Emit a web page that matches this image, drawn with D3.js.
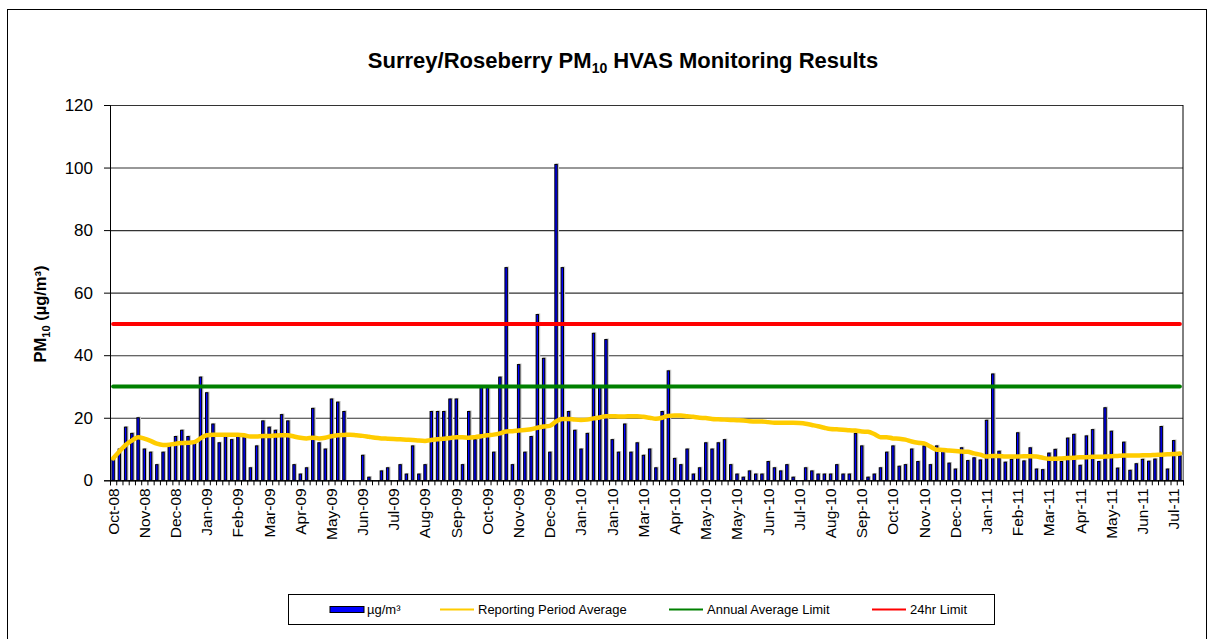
<!DOCTYPE html>
<html>
<head>
<meta charset="utf-8">
<script src="https://cdn.jsdelivr.net/npm/d3@7"></script>
<style>
body { margin: 0; background: #fff; }
text { font-family: Arial, "Liberation Sans", sans-serif; fill: #000; }
</style>
</head>
<body>
<div class="chart"></div>
<script>
// month labels, one every 5 samples
var tickLabels = ["Oct-08","Nov-08","Dec-08","Jan-09","Feb-09","Mar-09","Apr-09","May-09","Jun-09","Jul-09",
  "Aug-09","Sep-09","Oct-09","Nov-09","Dec-09","Jan-10","Jan-10","Mar-10","Apr-10","May-10",
  "May-10","Jun-10","Jul-10","Aug-10","Sep-10","Oct-10","Nov-10","Dec-10","Jan-11","Feb-11",
  "Mar-11","Apr-11","May-11","Jun-11","Jul-11"]

// PM10 results (µg/m³), one per sample
var pm10 = [7,10,17,15,20,10,9,5,9,11,
  14,16,14,12,33,28,18,12,14,13,
  14,14,4,11,19,17,16,21,19,5,
  2,4,23,12,10,26,25,22,0,0,
  8,1,0,3,4,0,5,2,11,2,
  5,22,22,22,26,26,5,22,13,30,
  30,9,33,68,5,37,9,14,53,39,
  9,101,68,22,16,10,15,47,30,45,
  13,9,18,9,12,8,10,4,22,35,
  7,5,10,2,4,12,10,12,13,5,
  2,1,3,2,2,6,4,3,5,1,
  0,4,3,2,2,2,5,2,2,15,
  11,1,2,4,9,11,4.5,5,10,6,
  11,5,11,10,5.5,3.6,10.4,6.3,7.2,6.5,
  19.2,34,9.3,5.8,6.7,15.2,6.2,10.4,3.6,3.4,
  8.7,9.9,6,13.5,14.7,4.8,14.2,16.2,6,23.2,
  15.7,3.9,12.2,3.2,5.3,6.7,6.1,6.8,17.2,3.6,
  12.7,7.8]

// reporting period average
var periodAvg = [7,9.2,11.3,12.7,13.8,13.3,12.6,11.7,11.3,11.4,
  11.7,11.9,12,12.2,13.4,14.4,14.6,14.6,14.6,14.6,
  14.6,14.4,14,14,14.2,14.2,14.3,14.4,14.4,14,
  13.6,13.4,13.6,13.4,13.6,14.1,14.4,14.5,14.6,14.4,
  14.2,13.9,13.6,13.4,13.3,13.2,13.1,13,12.9,12.7,
  12.6,12.9,13.1,13.3,13.5,13.8,13.8,13.6,13.8,14.1,
  14.4,14.6,15,15.6,15.7,15.9,16.1,16.3,16.8,17.2,
  17.4,18.8,19.6,19.6,19.4,19.3,19.4,19.8,20.1,20.5,
  20.5,20.4,20.4,20.5,20.5,20.3,20,19.7,20,20.6,
  20.7,20.7,20.5,20.3,20,19.9,19.6,19.5,19.4,19.3,
  19.2,19.1,18.9,18.8,18.8,18.6,18.4,18.4,18.4,18.4,
  18.3,18.1,17.7,17.3,16.8,16.4,16.3,16.2,16,15.9,
  15.6,15.5,14.8,13.8,13.8,13.4,13.3,13,12.4,12,
  11.8,10.8,9.8,9.7,9.5,9.4,9.2,9.1,8.6,8.2,
  7.6,7.8,7.8,7.6,7.6,7.6,7.7,7.7,7.6,7.2,
  6.9,6.9,7,7.1,7.2,7.4,7.4,7.5,7.5,7.6,
  7.7,7.8,7.9,7.9,7.9,8,8,8.1,8.2,8.3,
  8.4,8.6]

var annualLimit = 30
var dayLimit = 50
var yTicks = [0,20,40,60,80,100,120]

var margin = { top: 105, right: 30, bottom: 159, left: 110 }
var width = 1213 - margin.left - margin.right
var height = 639 - margin.top - margin.bottom + 0.3

var svg = d3.select(".chart").append("svg")
    .attr("width", 1213)
    .attr("height", 639)

svg.append("rect")
    .attr("x", 7.5).attr("y", 9.5)
    .attr("width", 1199).attr("height", 650)
    .attr("fill", "none").attr("stroke", "#000")

// title
var title = svg.append("text")
    .attr("x", 623).attr("y", 68)
    .attr("text-anchor", "middle")
    .style("font-size", "22px").style("font-weight", "bold")
title.append("tspan").text("Surrey/Roseberry PM")
title.append("tspan").attr("dy", 5).style("font-size", "14px").text("10")
title.append("tspan").attr("dy", -5).text(" HVAS Monitoring Results")

var g = svg.append("g")
    .attr("transform", "translate(" + margin.left + "," + margin.top + ")")

var idx = d3.range(pm10.length)
var xScale = d3.scaleBand().domain(idx).range([0, width]).padding(0)
var xEdge = d3.scaleLinear().domain([0, pm10.length]).range([0, width])
var yScale = d3.scaleLinear().domain([0, 120]).range([height, 0])

// gridlines
g.append("g")
    .attr("class", "grid")
    .call(d3.axisLeft(yScale).tickValues(yTicks).tickSize(-width).tickFormat(""))
    .call(function(s) { s.select(".domain").remove() })
    .selectAll("line").attr("stroke", "#333").attr("stroke-width", 1.1)

// right border
g.append("line")
    .attr("x1", width).attr("x2", width)
    .attr("y1", 0).attr("y2", height)
    .attr("stroke", "#000")

// bars with a grey shadow
var bw = 2.4
g.selectAll("rect.shadow")
    .data(idx.filter(function(i) { return pm10[i] > 0 }))
    .enter().append("rect")
    .attr("class", "shadow")
    .attr("x", function(i) { return xScale(i) + xScale.bandwidth() / 2 - bw / 2 + 1.2 })
    .attr("y", function(i) { return yScale(pm10[i]) - 0.6 })
    .attr("width", bw)
    .attr("height", function(i) { return height - yScale(pm10[i]) + 0.6 })
    .attr("fill", "#b0b0b0").attr("stroke", "#c8c8c8").attr("stroke-width", 1)

g.selectAll("rect.bar")
    .data(idx.filter(function(i) { return pm10[i] > 0 }))
    .enter().append("rect")
    .attr("class", "bar")
    .attr("x", function(i) { return xScale(i) + xScale.bandwidth() / 2 - bw / 2 })
    .attr("y", function(i) { return yScale(pm10[i]) })
    .attr("width", bw)
    .attr("height", function(i) { return height - yScale(pm10[i]) })
    .attr("fill", "#0000ff").attr("stroke", "#000").attr("stroke-width", 1)

var cx = function(i) { return xScale(i) + xScale.bandwidth() / 2 }

// limit lines
g.append("line")
    .attr("x1", cx(0)).attr("x2", cx(pm10.length - 1))
    .attr("y1", yScale(annualLimit)).attr("y2", yScale(annualLimit))
    .attr("stroke", "#008000").attr("stroke-width", 4).attr("stroke-linecap", "round")
g.append("line")
    .attr("x1", cx(0)).attr("x2", cx(pm10.length - 1))
    .attr("y1", yScale(dayLimit)).attr("y2", yScale(dayLimit))
    .attr("stroke", "#ff0000").attr("stroke-width", 4).attr("stroke-linecap", "round")

// reporting period average
var line = d3.line()
    .x(function(d, i) { return cx(i) })
    .y(function(d) { return yScale(d) })
    .curve(d3.curveMonotoneX)
g.append("path")
    .datum(periodAvg)
    .attr("d", line)
    .attr("fill", "none")
    .attr("stroke", "#ffcc00").attr("stroke-width", 4.5)
    .attr("stroke-linejoin", "round").attr("stroke-linecap", "round")

// y axis
var yAxis = g.append("g")
    .call(d3.axisLeft(yScale).tickValues(yTicks).tickSize(6).tickPadding(11))
yAxis.select(".domain").attr("stroke", "#000")
yAxis.selectAll("text").style("font-size", "17px")

// x axis: tick marks between every sample
g.append("g")
    .attr("transform", "translate(0," + height + ")")
    .call(d3.axisBottom(xEdge).tickValues(d3.range(pm10.length + 1)).tickSize(5).tickFormat(""))
    .selectAll("line").attr("stroke", "#000")

var xAxis = g.append("g")
    .attr("transform", "translate(0," + height + ")")
    .call(d3.axisBottom(xScale)
        .tickValues(idx.filter(function(i) { return i % 5 === 0 }))
        .tickSize(0)
        .tickFormat(function(i) { return tickLabels[i / 5] }))
xAxis.select(".domain").attr("stroke", "#000")
xAxis.selectAll("text")
    .style("font-size", "15.5px")
    .style("text-anchor", "end")
    .attr("transform", "rotate(-90)")
    .attr("x", -8)
    .attr("y", 0)
    .attr("dy", "0.35em")

// y axis title
var yt = svg.append("text")
    .attr("transform", "translate(46,314) rotate(-90)")
    .attr("text-anchor", "middle")
    .style("font-size", "16.5px").style("font-weight", "bold")
yt.append("tspan").text("PM")
yt.append("tspan").attr("dy", 4).style("font-size", "11px").text("10")
yt.append("tspan").attr("dy", -4).text(" (µg/m³)")

// legend
var lg = svg.append("g")
lg.append("rect")
    .attr("x", 288.5).attr("y", 594.5).attr("width", 706).attr("height", 30)
    .attr("fill", "#fff").attr("stroke", "#000")
var ly = 609.5
lg.append("rect")
    .attr("x", 330).attr("y", ly - 3).attr("width", 34).attr("height", 6)
    .attr("fill", "#0000ff").attr("stroke", "#000")
var legendItems = [
    { label: "µg/m³", x: 367 },
    { label: "Reporting Period Average", x: 478, color: "#ffcc00", lx: 440 },
    { label: "Annual Average Limit", x: 707, color: "#008000", lx: 669 },
    { label: "24hr Limit", x: 910, color: "#ff0000", lx: 872 }
]
legendItems.forEach(function(d) {
    if (d.color) {
        lg.append("line")
            .attr("x1", d.lx).attr("x2", d.lx + 34)
            .attr("y1", ly).attr("y2", ly)
            .attr("stroke", d.color).attr("stroke-width", 2)
    }
    lg.append("text")
        .attr("x", d.x).attr("y", ly).attr("dy", "0.35em")
        .style("font-size", "13px")
        .text(d.label)
})
</script>
</body>
</html>
